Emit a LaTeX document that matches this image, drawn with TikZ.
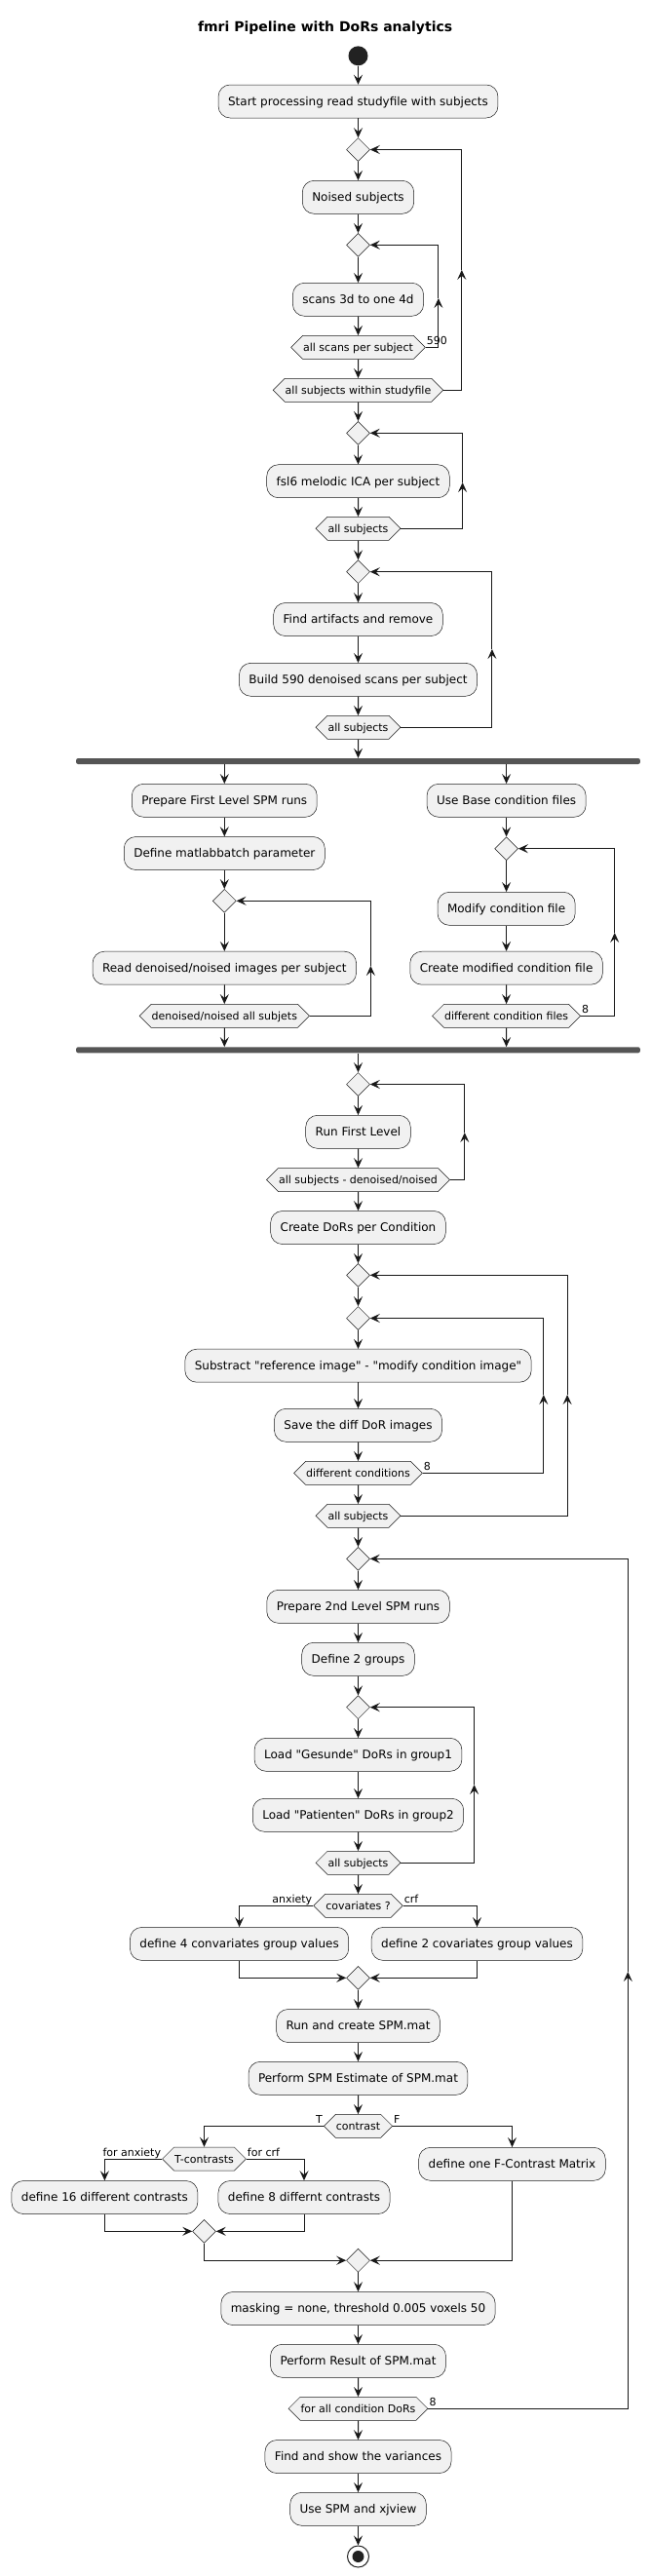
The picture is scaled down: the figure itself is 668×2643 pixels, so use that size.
\documentclass[tikz,border=0pt]{standalone}
\usepackage{fontspec}
\setmainfont{DejaVu Sans}
\usetikzlibrary{shapes.geometric}
\usetikzlibrary{shapes.symbols}
\usetikzlibrary{arrows.meta}
\definecolor{boxfill}{HTML}{F1F1F1}
\definecolor{ink}{HTML}{181818}
\definecolor{barfill}{HTML}{555555}
\definecolor{dot}{HTML}{222222}
\newcommand{\qq}[1]{\textquotedbl #1\textquotedbl}
\tikzset{
	act/.style={draw=ink, line width=0.5pt, fill=boxfill, rounded corners=12pt, minimum height=34pt, inner xsep=10pt, inner ysep=0pt, text height=8.75pt, text depth=0pt, font=\fontsize{12}{14}\selectfont},
	hexa/.style={signal, signal to=east and west, signal pointer angle=90, draw=ink, line width=0.5pt, fill=boxfill, minimum height=24pt, inner xsep=0.5pt, inner ysep=0pt, text height=8pt, text depth=0pt, font=\fontsize{11}{13}\selectfont},
	choice/.style={diamond, draw=ink, line width=0.5pt, fill=boxfill, minimum width=24pt, minimum height=24pt, inner sep=0pt},
	syncbar/.style={fill=barfill, rounded corners=2pt, minimum width=578.7pt, minimum height=6pt, inner sep=0pt},
	flow/.style={draw=ink, line width=1pt, -{Stealth[length=10pt,width=9pt,inset=4pt]}},
	lblL/.style={anchor=base east, inner sep=1pt, yshift=3pt, font=\fontsize{11}{13}\selectfont},
	lblR/.style={anchor=base west, inner sep=1pt, yshift=3pt, font=\fontsize{11}{13}\selectfont}
}
\begin{document}
\begin{tikzpicture}[x=1pt,y=-1pt]
		\useasboundingbox (0,0) rectangle (668,2643);
		\node (title) [anchor=base, font=\fontsize{14}{16}\selectfont\bfseries] at (333.6,32.3) {fmri Pipeline with DoRs analytics};
		\node (start) [circle, fill=dot, minimum size=20pt, inner sep=0pt] at (367.5,57.3) {};
		\node (sp) [act] at (367.5,104) {Start processing read studyfile with subjects};
		\node (d1) [choice] at (367.5,153.5) {};
		\node (noised) [act] at (367.5,202.3) {Noised subjects};
		\node (d2) [choice] at (367.5,251.3) {};
		\node (scans) [act] at (367.5,307.3) {scans 3d to one 4d};
		\node (h1) [hexa] at (367.5,356.3) {all scans per subject};
		\node (h2) [hexa] at (367.5,400.3) {all subjects within studyfile};
		\node (d3) [choice] at (367.5,444.3) {};
		\node (ica) [act] at (367.5,493.7) {fsl6 melodic ICA per subject};
		\node (h3) [hexa] at (367.5,542.3) {all subjects};
		\node (d4) [choice] at (367.5,586.7) {};
		\node (art) [act] at (367.5,635.5) {Find artifacts and remove};
		\node (build) [act] at (367.5,697.3) {Build 590 denoised scans per subject};
		\node (h4) [hexa] at (367.5,746.3) {all subjects};
		\node (fork) [syncbar] at (367.5,781) {};
		\node (prep) [act] at (230.3,821.3) {Prepare First Level SPM runs};
		\node (mat) [act] at (230.3,875.5) {Define matlabbatch parameter};
		\node (dl) [choice] at (230.3,924.3) {};
		\node (read) [act] at (230.3,993.2) {Read denoised/noised images per subject};
		\node (hl) [hexa] at (230.3,1042.3) {denoised/noised all subjets};
		\node (base) [act] at (519.6,821.3) {Use Base condition files};
		\node (dr) [choice] at (519.6,870.7) {};
		\node (mod) [act] at (519.6,932.3) {Modify condition file};
		\node (cre) [act] at (519.6,993.2) {Create modified condition file};
		\node (hr) [hexa] at (519.6,1042.3) {different condition files};
		\node (join) [syncbar] at (367.5,1077.3) {};
		\node (d5) [choice] at (367.5,1112.5) {};
		\node (run) [act] at (367.5,1161.3) {Run First Level};
		\node (h6) [hexa] at (367.5,1210.5) {all subjects - denoised/noised};
		\node (dors) [act] at (367.5,1259.5) {Create DoRs per Condition};
		\node (d6) [choice] at (367.5,1308.3) {};
		\node (d7) [choice] at (367.5,1352.5) {};
		\node (sub) [act] at (367.5,1401.2) {Substract \qq{reference image} - \qq{modify condition image}};
		\node (save) [act] at (367.5,1462.3) {Save the diff DoR images};
		\node (h7) [hexa] at (367.5,1511.3) {different conditions};
		\node (h8) [hexa] at (367.5,1555.3) {all subjects};
		\node (d8) [choice] at (367.5,1599.3) {};
		\node (prep2) [act] at (367.5,1648.3) {Prepare 2nd Level SPM runs};
		\node (grp) [act] at (367.5,1702.3) {Define 2 groups};
		\node (d9) [choice] at (367.5,1751.7) {};
		\node (ges) [act] at (367.5,1800.3) {Load \qq{Gesunde} DoRs in group1};
		\node (pat) [act] at (367.5,1862.3) {Load \qq{Patienten} DoRs in group2};
		\node (h9) [hexa] at (367.5,1911.3) {all subjects};
		\node (cov) [hexa] at (367.5,1955.3) {covariates ?};
		\node (def4) [act] at (245.6,1994.4) {define 4 convariates group values};
		\node (def2) [act] at (489.5,1994.4) {define 2 covariates group values};
		\node (m1) [choice] at (367.5,2029.3) {};
		\node (runspm) [act] at (367.5,2078.5) {Run and create SPM.mat};
		\node (est) [act] at (367.5,2132.3) {Perform SPM Estimate of SPM.mat};
		\node (con) [hexa] at (367.5,2181.3) {contrast};
		\node (tcon) [hexa] at (209.5,2215) {T-contrasts};
		\node (fmat) [act] at (525.5,2220.3) {define one F-Contrast Matrix};
		\node (def16) [act] at (107.4,2254.5) {define 16 different contrasts};
		\node (def8) [act] at (312,2254.5) {define 8 differnt contrasts};
		\node (tm) [choice] at (209.5,2289.3) {};
		\node (m2) [choice] at (367.5,2319.2) {};
		\node (mask) [act] at (367.5,2368.5) {masking = none, threshold 0.005 voxels 50};
		\node (res) [act] at (367.5,2422.3) {Perform Result of SPM.mat};
		\node (h10) [hexa] at (367.5,2471.3) {for all condition DoRs};
		\node (find) [act] at (367.5,2520.5) {Find and show the variances};
		\node (use) [act] at (367.5,2574.3) {Use SPM and xjview};
		\node (stop) [circle, draw=dot, line width=1pt, minimum size=22pt, inner sep=0pt] at (367.5,2623) {};
		\fill[dot] (stop.center) circle[radius=6pt];
		\foreach \a/\b in {start/sp, sp/d1, d1/noised, noised/d2, d2/scans, scans/h1, h1/h2, h2/d3, d3/ica, ica/h3, h3/d4, d4/art, art/build, build/h4, h4/fork,
				prep/mat, mat/dl, dl/read, read/hl, base/dr, dr/mod, mod/cre, cre/hr,
				join/d5, d5/run, run/h6, h6/dors, dors/d6, d6/d7, d7/sub, sub/save, save/h7, h7/h8, h8/d8, d8/prep2, prep2/grp, grp/d9, d9/ges, ges/pat, pat/h9, h9/cov,
				m1/runspm, runspm/est, est/con, m2/mask, mask/res, res/h10, h10/find, find/use, use/stop}
			\draw[flow] (\a) -- (\b);
		\draw[flow] (fork.south -| prep.north) -- (prep);
		\draw[flow] (fork.south -| base.north) -- (base);
		\draw[flow] (hl) -- (hl |- join.north);
		\draw[flow] (hr) -- (hr |- join.north);
		\foreach \h/\d/\x/\m in {h1/d2/449.9/306, h2/d1/473.8/276.9, h3/d3/474.6/495, h4/d4/504.9/666,
				hl/dl/380.4/991, hr/dr/630.7/957, h6/d5/476.8/1162, h7/d7/557.8/1431,
				h8/d6/582.1/1431, h9/d9/486.6/1831, h10/d8/644.3/2023}{
				\coordinate (up\h) at (\x,\m);
				\draw[flow] (\h.east) -| (up\h);
				\draw[flow] (up\h) |- (\d.east);
			}
		\draw[flow] (cov.west) -| (def4.north);
		\draw[flow] (cov.east) -| (def2.north);
		\draw[flow] (def4.south) |- (m1.west);
		\draw[flow] (def2.south) |- (m1.east);
		\draw[flow] (con.west) -| (tcon.north);
		\draw[flow] (con.east) -| (fmat.north);
		\draw[flow] (tcon.west) -| (def16.north);
		\draw[flow] (tcon.east) -| (def8.north);
		\draw[flow] (def16.south) |- (tm.west);
		\draw[flow] (def8.south) |- (tm.east);
		\draw[flow] (tm.south) |- (m2.west);
		\draw[flow] (fmat.south) |- (m2.east);
		\node (n590) [lblR] at (h1.east) {590};
		\node (ncond) [lblR] at (hr.east) {8};
		\node (ndiff) [lblR] at (h7.east) {8};
		\node (ndors) [lblR] at (h10.east) {8};
		\node (nanx) [lblL] at (cov.west) {anxiety};
		\node (ncrf) [lblR] at (cov.east) {crf};
		\node (nT) [lblL] at (con.west) {T};
		\node (nF) [lblR] at (con.east) {F};
		\node (ntanx) [lblL] at (tcon.west) {for anxiety};
		\node (ntcrf) [lblR] at (tcon.east) {for crf};
	\end{tikzpicture}
\end{document}
